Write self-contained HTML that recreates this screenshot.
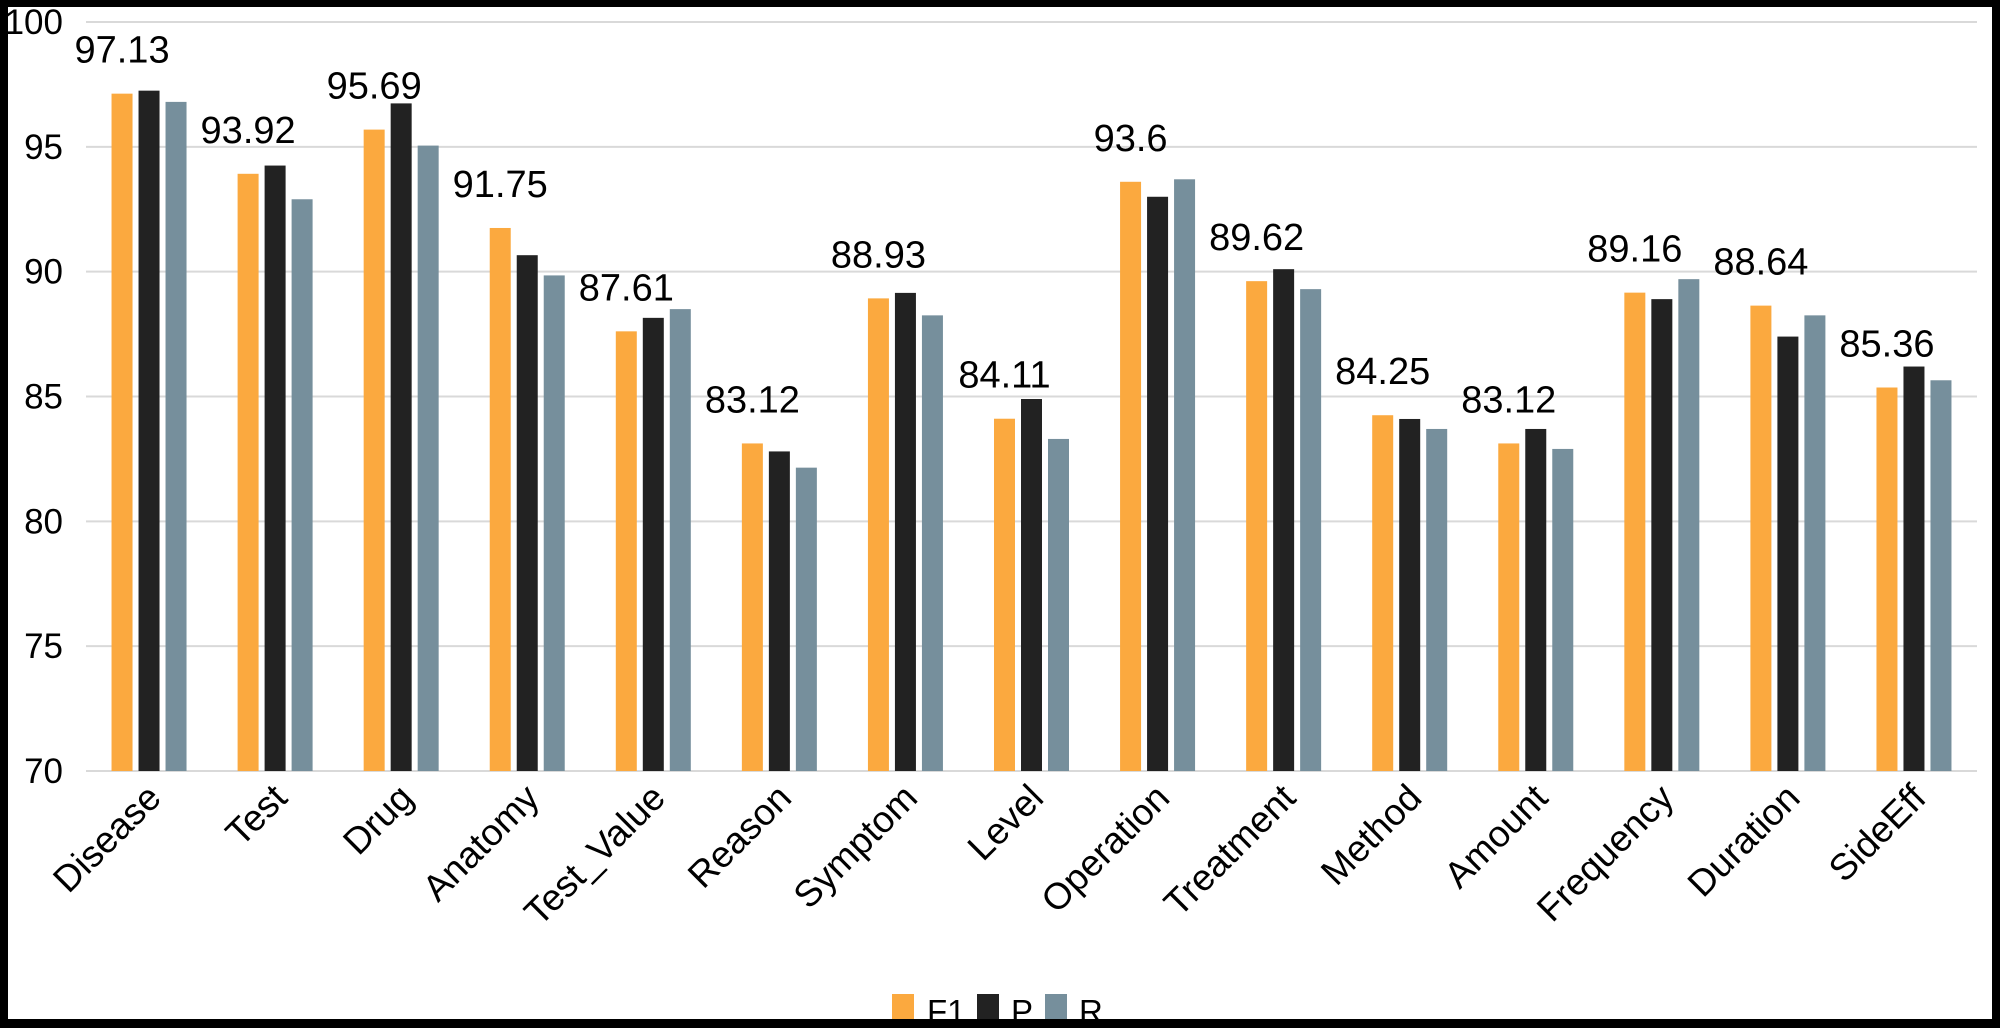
<!DOCTYPE html>
<html><head><meta charset="utf-8"><style>
html,body{margin:0;padding:0;background:#000;}
svg{display:block;font-family:"Liberation Sans",Arial,sans-serif;}
</style></head><body>
<svg id="chart" width="2000" height="1028" viewBox="0 0 2000 1028">
<rect x="8" y="7" width="1984" height="1012" fill="#fff"/>
<g id="grid"></g><g id="bars"></g><g id="labels"></g><g id="xlabels"></g>
<g>
<rect x="892" y="994" width="22" height="25" fill="#FBA93F"/>
<text x="927" y="1023" font-size="33">F1</text>
<rect x="977" y="994" width="22" height="25" fill="#222"/>
<text x="1011" y="1023" font-size="33">P</text>
<rect x="1045" y="994" width="22" height="25" fill="#768F9C"/>
<text x="1079" y="1023" font-size="33">R</text>
</g>
<rect x="0" y="1019" width="2000" height="9" fill="#000"/>
</svg>
<script>
const categories=["Disease","Test","Drug","Anatomy","Test_Value","Reason","Symptom","Level","Operation","Treatment","Method","Amount","Frequency","Duration","SideEff"];
const f1Values=[97.13,93.92,95.69,91.75,87.61,83.12,88.93,84.11,93.6,89.62,84.25,83.12,89.16,88.64,85.36];
const pValues=[97.25,94.25,96.74,90.66,88.15,82.8,89.15,84.9,93.0,90.1,84.1,83.7,88.9,87.4,86.2];
const rValues=[96.8,92.9,95.05,89.85,88.5,82.15,88.25,83.3,93.7,89.3,83.7,82.9,89.7,88.25,85.65];
const yTicks=[70,75,80,85,90,95,100];
const f1Labels=["97.13","93.92","95.69","91.75","87.61","83.12","88.93","84.11","93.6","89.62","84.25","83.12","89.16","88.64","85.36"];
const NS="http://www.w3.org/2000/svg";
const plotLeft=86,plotRight=1977,yMin=70,yMax=100,plotTop=22,plotBottom=771;
const yScale=v=>plotBottom-(v-yMin)/(yMax-yMin)*(plotBottom-plotTop);
const step=(plotRight-plotLeft)/categories.length;
const cx=i=>plotLeft+step*(i+0.5);
function mk(tag,attrs,parent){const e=document.createElementNS(NS,tag);for(const k in attrs)e.setAttribute(k,attrs[k]);parent.appendChild(e);return e;}
const grid=document.getElementById('grid');
yTicks.forEach(t=>{
 const l=mk('line',{x1:plotLeft,x2:plotRight,y1:yScale(t),y2:yScale(t),stroke:'#d9d9d9','stroke-width':2},grid);
 
 
 const tx=mk('text',{x:63,y:yScale(t)+12,'font-size':35,'text-anchor':'end'},grid);
 tx.textContent=t;
 
 
});
const bars=document.getElementById('bars');
const series=[[f1Values,'#FBA93F','f1',-27],[pValues,'#222222','p',0],[rValues,'#768F9C','r',27]];
categories.forEach((c,i)=>{
 series.forEach(([vals,col,nm,off])=>{
  const r=mk('rect',{x:cx(i)+off-10.5,y:yScale(vals[i]),width:21,height:plotBottom-yScale(vals[i]),fill:col},bars);
  
  
 });
 const lb=mk('text',{x:cx(i)-27,y:yScale(f1Values[i])-31,'font-size':38,'text-anchor':'middle'},document.getElementById('labels'));
 lb.textContent=f1Labels[i];
 
 
 const xl=mk('text',{x:0,y:0,'font-size':37,'text-anchor':'end',transform:`translate(${cx(i)+14},800) rotate(-45)`},document.getElementById('xlabels'));
 xl.textContent=c;
 
 
});
</script>
</body></html>
